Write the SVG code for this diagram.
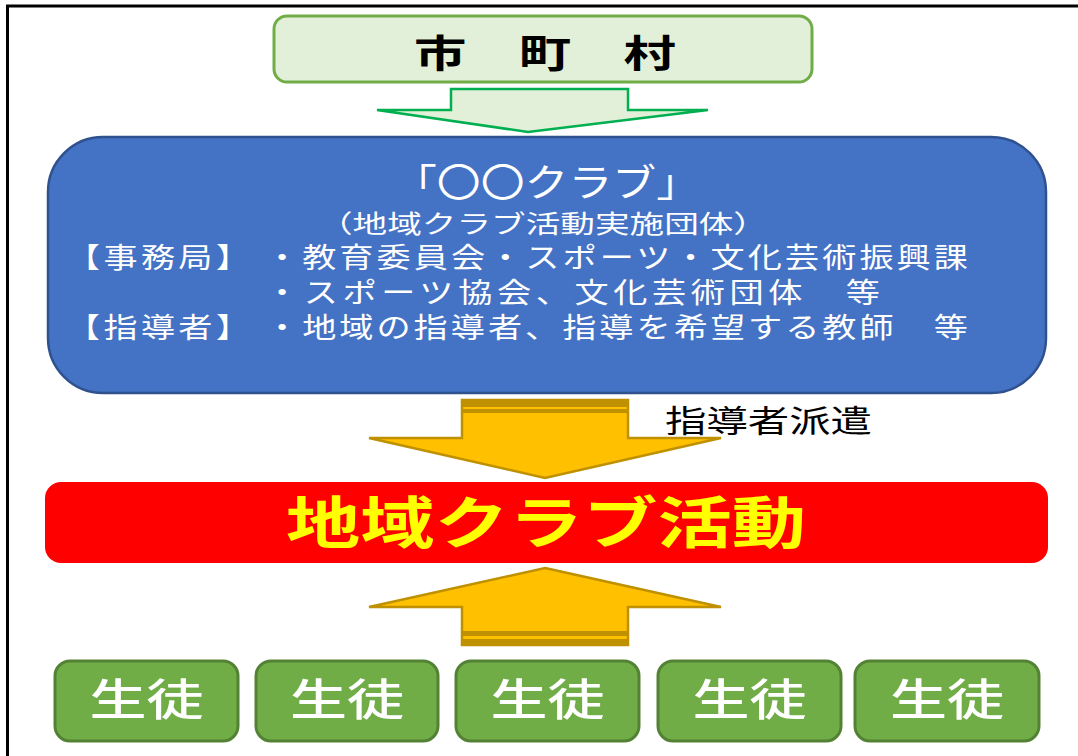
<svg xmlns="http://www.w3.org/2000/svg" width="1078" height="756" viewBox="0 0 1078 756">
<style>
text{font-family:"Noto Sans CJK JP","Noto Sans CJK SC",sans-serif;}
.w{fill:#FFFFFF;}
.ln{font-size:28px;}
.stu rect{fill:#70AD47;stroke:#548235;stroke-width:3;}
.stu text{fill:#FFFFFF;font-size:44px;font-weight:500;text-anchor:middle;}
.gold{fill:#FFC000;stroke:#BF9000;stroke-width:2.5;stroke-linejoin:miter;}
.band{fill:#BF9000;}
</style>
<rect x="0" y="0" width="1078" height="756" fill="#FFFFFF"/>
<path d="M7.5 756 V6 H1078" fill="none" stroke="#000" stroke-width="3"/>

<g id="city">
<rect x="274" y="16" width="538" height="66" rx="13" fill="#E2F0D9" stroke="#70AD47" stroke-width="3"/>
<text x="414" y="67" font-size="38" font-weight="700" fill="#000" textLength="262" lengthAdjust="spacingAndGlyphs">市　町　村</text>
</g>

<g id="club">
<rect x="48" y="137" width="998" height="256" rx="55" fill="#4472C4" stroke="#2F528F" stroke-width="2.5"/>
<text class="w" x="393" y="196" font-size="38" textLength="307" lengthAdjust="spacingAndGlyphs">「〇〇クラブ」</text>
<text class="w" x="318" y="233" font-size="25" textLength="450" lengthAdjust="spacingAndGlyphs">（地域クラブ活動実施団体）</text>
<g transform="scale(1.22,1)">
<text class="w ln" x="54.1" y="268" textLength="150.8" lengthAdjust="spacing">【事務局】</text>
<text class="w ln" x="217.2" y="268" textLength="576.2" lengthAdjust="spacing">・教育委員会・スポーツ・文化芸術振興課</text>
<text class="w ln" x="217.2" y="303" textLength="504.1" lengthAdjust="spacing">・スポーツ協会、文化芸術団体　等</text>
<text class="w ln" x="54.1" y="338" textLength="150.8" lengthAdjust="spacing">【指導者】</text>
<text class="w ln" x="217.2" y="338" textLength="576.2" lengthAdjust="spacing">・地域の指導者、指導を希望する教師　等</text>
</g>
</g>

<g id="activity">
<rect x="45" y="482" width="1003" height="81" rx="16" fill="#FF0000"/>
<text x="286" y="543" font-size="56" font-weight="700" fill="#FFFF00" textLength="520" lengthAdjust="spacingAndGlyphs">地域クラブ活動</text>
</g>

<g id="dispatch-label">
<text x="665" y="432" font-size="31" fill="#000" textLength="207" lengthAdjust="spacingAndGlyphs">指導者派遣</text>
</g>

<g id="connectors">
<polygon points="451,89 628,89 628,110 708,110 528,132 377,110 451,110" fill="#E2F0D9" stroke="#00B050" stroke-width="2.5"/>
<g id="arrow-down">
<polygon class="gold" points="462,400 628,400 628,438 721,438 545,478 369,438 462,438"/>
<rect class="band" x="462" y="399" width="166" height="8"/>
<rect class="band" x="462" y="409" width="166" height="4"/>
</g>
<g id="arrow-up">
<polygon class="gold" points="545,568 721,607 628,607 628,645 462,645 462,607 369,607"/>
<rect class="band" x="462" y="631" width="166" height="5"/>
<rect class="band" x="462" y="639" width="166" height="7"/>
</g>
</g>

<g id="s1" class="stu"><rect x="55" y="661" width="183" height="80" rx="15"/><text x="146.5" y="716" textLength="114" lengthAdjust="spacingAndGlyphs">生徒</text></g>
<g id="s2" class="stu"><rect x="256" y="661" width="182" height="80" rx="15"/><text x="347" y="716" textLength="114" lengthAdjust="spacingAndGlyphs">生徒</text></g>
<g id="s3" class="stu"><rect x="456" y="661" width="183" height="80" rx="15"/><text x="547.5" y="716" textLength="114" lengthAdjust="spacingAndGlyphs">生徒</text></g>
<g id="s4" class="stu"><rect x="658" y="661" width="183" height="80" rx="15"/><text x="749.5" y="716" textLength="114" lengthAdjust="spacingAndGlyphs">生徒</text></g>
<g id="s5" class="stu"><rect x="855" y="661" width="184" height="80" rx="15"/><text x="947" y="716" textLength="114" lengthAdjust="spacingAndGlyphs">生徒</text></g>
</svg>
